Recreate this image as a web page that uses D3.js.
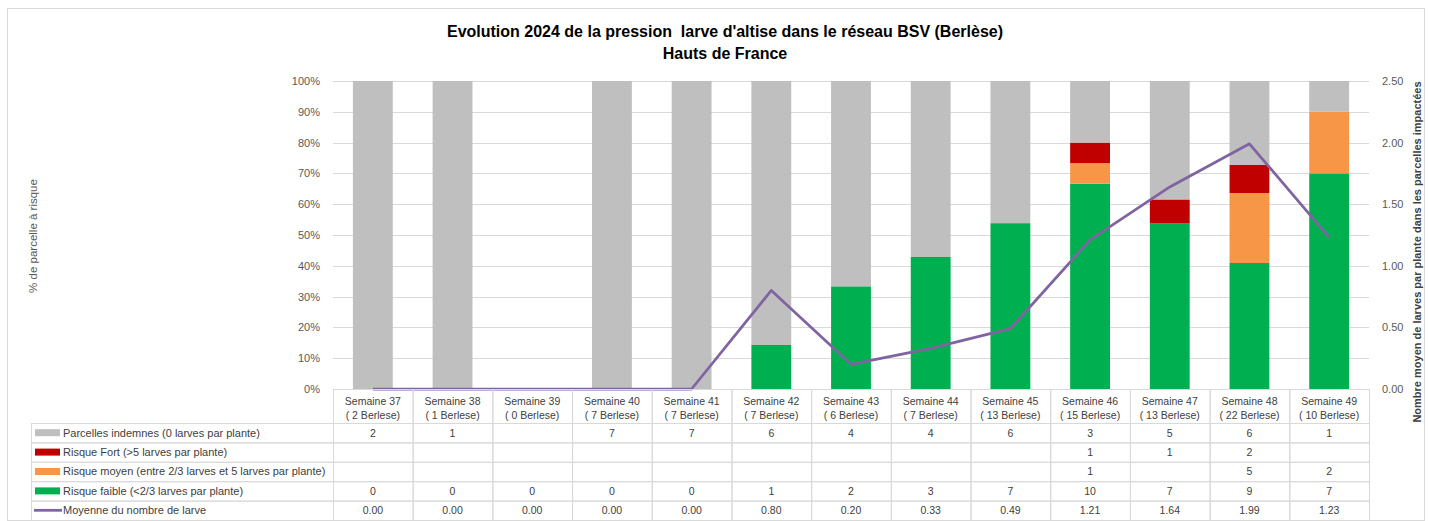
<!DOCTYPE html>
<html>
<head>
<meta charset="utf-8">
<script src="https://cdn.jsdelivr.net/npm/d3@7"></script>
<style>
  body { margin: 0; background: #fff; }
  text { font-family: "Liberation Sans", sans-serif; }
</style>
</head>
<body>
<div id="chart"></div>
<script>
// data
const categories = ["Semaine 37", "Semaine 38", "Semaine 39", "Semaine 40", "Semaine 41", "Semaine 42", "Semaine 43",
  "Semaine 44", "Semaine 45", "Semaine 46", "Semaine 47", "Semaine 48", "Semaine 49"];
const berlese = [2, 1, 0, 7, 7, 7, 6, 7, 13, 15, 13, 22, 10];
const indemnes = [2, 1, null, 7, 7, 6, 4, 4, 6, 3, 5, 6, 1];
const risqueFort = [null, null, null, null, null, null, null, null, null, 1, 1, 2, null];
const risqueMoyen = [null, null, null, null, null, null, null, null, null, 1, null, 5, 2];
const risqueFaible = [0, 0, 0, 0, 0, 1, 2, 3, 7, 10, 7, 9, 7];
const moyenne = [0.00, 0.00, 0.00, 0.00, 0.00, 0.80, 0.20, 0.33, 0.49, 1.21, 1.64, 1.99, 1.23];
const pctTicks = [0, 0.1, 0.2, 0.3, 0.4, 0.5, 0.6, 0.7, 0.8, 0.9, 1];
const meanTicks = [0, 0.5, 1, 1.5, 2, 2.5];

const width = 1429, height = 521;
const plot = { left: 333, right: 1369, top: 81, bottom: 389 };
const rowH = 19.4, headH = 34, tableLeft = 31;

const series = [
  { key: "indemnes", label: "Parcelles indemnes (0 larves par plante)", color: "#BFBFBF", values: indemnes },
  { key: "fort", label: "Risque Fort (>5 larves par plante)", color: "#C00000", values: risqueFort },
  { key: "moyen", label: "Risque moyen (entre 2/3 larves et 5 larves par plante)", color: "#F79646", values: risqueMoyen },
  { key: "faible", label: "Risque faible (<2/3 larves par plante)", color: "#00B050", values: risqueFaible }
];
const lineColor = "#8064A2";

const rows = categories.map((c, i) => {
  const r = { cat: c };
  series.forEach(s => r[s.key] = s.values[i] || 0);
  return r;
});

const svg = d3.select("#chart").append("svg")
  .attr("width", width)
  .attr("height", height);

svg.append("rect")
  .attr("x", 7.5).attr("y", 8.5)
  .attr("width", 1417).attr("height", 512)
  .attr("fill", "#fff").attr("stroke", "#D9D9D9");

const x = d3.scaleBand()
  .domain(categories)
  .range([plot.left, plot.right])
  .paddingInner(0.5)
  .paddingOuter(0.25);
const step = x.step();
const colLeft = c => x(c) - step * 0.25;

const y = d3.scaleLinear().domain([0, 1]).range([plot.bottom, plot.top]);
const y2 = d3.scaleLinear().domain([0, 2.5]).range([plot.bottom, plot.top]);

// title
svg.append("text")
  .attr("x", 725).attr("y", 37)
  .attr("text-anchor", "middle")
  .attr("font-size", 16).attr("font-weight", "bold").attr("fill", "#000")
  .style("white-space", "pre")
  .text("Evolution 2024 de la pression  larve d'altise dans le réseau BSV (Berlèse)");
svg.append("text")
  .attr("x", 725).attr("y", 59)
  .attr("text-anchor", "middle")
  .attr("font-size", 16).attr("font-weight", "bold").attr("fill", "#000")
  .text("Hauts de France");

// gridlines
svg.append("g")
  .selectAll("line")
  .data(pctTicks.slice(1))
  .join("line")
  .attr("x1", plot.left).attr("x2", plot.right)
  .attr("y1", d => Math.round(y(d)) + 0.5).attr("y2", d => Math.round(y(d)) + 0.5)
  .attr("stroke", "#D9D9D9");

// left axis
const yAxis = svg.append("g")
  .attr("transform", `translate(${plot.left - 10},0)`)
  .call(d3.axisLeft(y).tickValues(pctTicks).tickFormat(d3.format(".0%")).tickSize(0))
  .call(g => g.select(".domain").remove());
yAxis.selectAll("text").attr("font-size", 11).attr("fill", "#595959")
  .attr("font-family", "Liberation Sans, sans-serif");

// right axis
const y2Axis = svg.append("g")
  .attr("transform", `translate(${plot.right + 10},0)`)
  .call(d3.axisRight(y2).tickValues(meanTicks).tickFormat(d3.format(".2f")).tickSize(0))
  .call(g => g.select(".domain").remove());
y2Axis.selectAll("text").attr("font-size", 11).attr("fill", "#595959")
  .attr("font-family", "Liberation Sans, sans-serif");

// axis titles
svg.append("text")
  .attr("transform", "translate(37,236) rotate(-90)")
  .attr("text-anchor", "middle")
  .attr("font-size", 11.5).attr("fill", "#595959")
  .text("% de parcelle à risque");
svg.append("text")
  .attr("transform", "translate(1421,252) rotate(-90)")
  .attr("text-anchor", "middle")
  .attr("font-size", 11).attr("font-weight", "bold").attr("fill", "#404040")
  .text("Nombre moyen de larves par plante dans les parcelles impactées");

// stacked bars, normalised to 100%
const stack = d3.stack()
  .keys(["faible", "moyen", "fort", "indemnes"])
  .offset(d3.stackOffsetExpand);
const stacked = stack(rows);
const colorOf = k => series.find(s => s.key === k).color;

svg.append("g")
  .selectAll("g")
  .data(stacked)
  .join("g")
  .attr("fill", d => colorOf(d.key))
  .selectAll("rect")
  .data(d => d.filter(p => p[1] > p[0]))
  .join("rect")
  .attr("x", d => x(d.data.cat))
  .attr("width", x.bandwidth())
  .attr("y", d => y(d[1]))
  .attr("height", d => y(d[0]) - y(d[1]));

// mean line
const line = d3.line()
  .x((d, i) => x(categories[i]) + x.bandwidth() / 2)
  .y(d => y2(d));
svg.append("path")
  .datum(moyenne)
  .attr("fill", "none")
  .attr("stroke", lineColor)
  .attr("stroke-width", 2.75)
  .attr("stroke-linejoin", "round")
  .attr("d", line);

// data table
const table = svg.append("g");
const tableTop = plot.bottom;
const bodyTop = tableTop + headH;
const gridColor = "#D9D9D9";

// header cells
const head = table.append("g")
  .selectAll("g")
  .data(categories)
  .join("g");
head.append("rect")
  .attr("x", d => colLeft(d) + 0.5).attr("y", tableTop + 0.5)
  .attr("width", step).attr("height", headH)
  .attr("fill", "none").attr("stroke", gridColor);
head.append("text")
  .attr("x", d => x(d) + x.bandwidth() / 2).attr("y", tableTop + 16)
  .attr("text-anchor", "middle").attr("font-size", 10.5).attr("fill", "#404040")
  .text(d => d);
head.append("text")
  .attr("x", d => x(d) + x.bandwidth() / 2).attr("y", tableTop + 30)
  .attr("text-anchor", "middle").attr("font-size", 10.5).attr("fill", "#404040")
  .text((d, i) => `( ${berlese[i]} Berlese)`);

const tableRows = [
  ...series.map(s => ({ label: s.label, color: s.color, type: "bar", values: s.values, fmt: d => String(d) })),
  { label: "Moyenne du nombre de larve", color: lineColor, type: "line", values: moyenne, fmt: d3.format(".2f") }
];

const body = table.append("g")
  .selectAll("g")
  .data(tableRows)
  .join("g")
  .attr("transform", (d, i) => `translate(0,${bodyTop + i * rowH})`);

body.append("rect")
  .attr("x", tableLeft + 0.5).attr("y", 0.5)
  .attr("width", plot.left - tableLeft).attr("height", rowH)
  .attr("fill", "none").attr("stroke", gridColor);

body.each(function (r) {
  const g = d3.select(this);
  if (r.type === "bar") {
    g.append("rect")
      .attr("x", 35).attr("y", rowH / 2 - 3.5)
      .attr("width", 25).attr("height", 7)
      .attr("fill", r.color);
  } else {
    g.append("line")
      .attr("x1", 34).attr("x2", 62)
      .attr("y1", rowH / 2).attr("y2", rowH / 2)
      .attr("stroke", r.color).attr("stroke-width", 2.75);
  }
  g.append("text")
    .attr("x", 63).attr("y", rowH / 2 + 4)
    .attr("font-size", 11).attr("fill", "#404040")
    .text(r.label);
  g.selectAll("rect.cell")
    .data(categories)
    .join("rect")
    .attr("class", "cell")
    .attr("x", c => colLeft(c) + 0.5).attr("y", 0.5)
    .attr("width", step).attr("height", rowH)
    .attr("fill", "none").attr("stroke", gridColor);
  g.selectAll("text.val")
    .data(r.values)
    .join("text")
    .attr("class", "val")
    .attr("x", (v, i) => x(categories[i]) + x.bandwidth() / 2)
    .attr("y", rowH / 2 + 4)
    .attr("text-anchor", "middle").attr("font-size", 10.5).attr("fill", "#404040")
    .text(v => v == null ? "" : r.fmt(v));
});
</script>
</body>
</html>
